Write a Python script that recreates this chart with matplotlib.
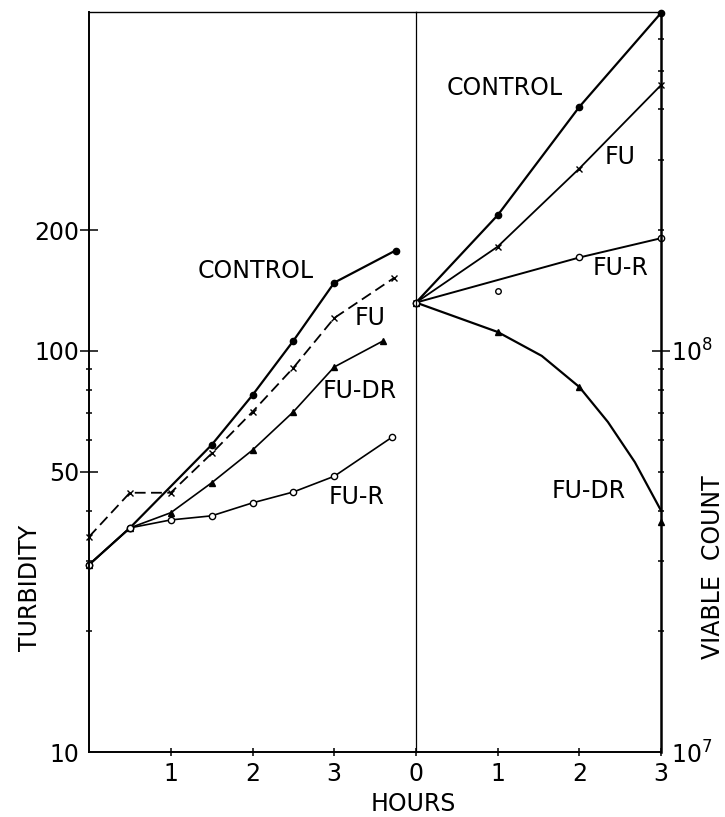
import numpy as np
import matplotlib
matplotlib.use("Agg")
import matplotlib.pyplot as plt
from matplotlib.ticker import FixedLocator, NullFormatter

plt.rcParams['font.family'] = ['DejaVu Sans']
plt.rcParams['mathtext.fontset'] = 'dejavusans'

# turbidity, left panel (hours)
hrs_control = [0, 0.5, 1.5, 2, 2.5, 3, 3.75]
turb_control = [29.3, 36.2, 58.3, 77.6, 106, 148, 178]
hrs_fu = [0, 0.5, 1, 1.5, 2, 2.5, 3, 3.73]
turb_fu = [34.4, 44.3, 44.3, 55.5, 70.5, 90.8, 120.8, 152]
hrs_fudr = [0, 0.5, 1, 1.5, 2, 2.5, 3, 3.6]
turb_fudr = [29.3, 36.2, 39.5, 46.9, 56.6, 70.5, 91.2, 106]
hrs_fur = [0, 0.5, 1, 1.5, 2, 2.5, 3, 3.71]
turb_fur = [29.3, 36.2, 37.9, 38.8, 41.8, 44.5, 48.7, 61]

# viable count, right panel (hours)
hrs_v = [0, 1, 2, 3]
via_control = [1.32e8, 2.18e8, 4.06e8, 6.96e8]
via_fu = [1.32e8, 1.82e8, 2.85e8, 4.6e8]
via_fudr = [1.32e8, 1.115e8, 8.13e7, 3.75e7]
hrs_fur_v = [0, 2, 3]
via_fur = [1.32e8, 1.71e8, 1.91e8]
hrs_fur_extra = [1]
via_fur_extra = [1.41e8]
# drawn curve of FU-DR
hrs_fudr_curve = [0, 1, 1.54, 2, 2.35, 2.68, 3]
via_fudr_curve = [1.32e8, 1.115e8, 9.72e7, 8.13e7, 6.65e7, 5.28e7, 4.0e7]

k = 'black'
fs = 17

fig = plt.figure(figsize=(7.25, 8.17), dpi=100)
W, H = 725, 817
axL = fig.add_axes([89 / W, 65 / H, 327 / W, 740 / H])
axR = fig.add_axes([416 / W, 65 / H, 245 / W, 740 / H])
axR.patch.set_visible(False)

# left panel curves
axL.plot(hrs_control, turb_control, color=k, lw=1.6, marker='o', ms=4.5, clip_on=False)
axL.plot(hrs_fu, turb_fu, color=k, lw=1.3, dashes=(6, 3), marker='x', ms=4, mew=1, clip_on=False)
axL.plot(hrs_fudr, turb_fudr, color=k, lw=1.2, marker='^', ms=4.5, clip_on=False)
axL.plot(hrs_fur, turb_fur, color=k, lw=1.2, marker='o', ms=4.5, mfc='white', clip_on=False)

# right panel curves
axR.plot(hrs_v, via_control, color=k, lw=1.6, marker='o', ms=4.5, clip_on=False)
axR.plot(hrs_v, via_fu, color=k, lw=1.3, marker='x', ms=4, mew=1, clip_on=False)
axR.plot(hrs_fudr_curve, via_fudr_curve, color=k, lw=1.6, clip_on=False)
axR.plot(hrs_v, via_fudr, color=k, ls='none', marker='^', ms=4.5, clip_on=False)
axR.plot(hrs_fur_v, via_fur, color=k, lw=1.4, marker='o', ms=4.5, mfc='white', clip_on=False)
axR.plot(hrs_fur_extra, via_fur_extra, color=k, ls='none', marker='o', ms=4, mfc='white')

# scales
axL.set_yscale('log')
axL.set_ylim(10, 700)
axL.set_xlim(0, 4)
axR.set_yscale('log')
axR.set_ylim(1e7, 7e8)
axR.set_xlim(0, 3)

# left ticks
axL.yaxis.set_major_locator(FixedLocator([10, 50, 100, 200]))
axL.set_yticklabels(['10', '50', '100', '200'])
axL.yaxis.set_minor_locator(FixedLocator([20, 30, 40, 60, 70, 80, 90]))
axL.yaxis.set_minor_formatter(NullFormatter())
axL.tick_params(axis='y', which='major', direction='inout', length=13, width=1.1,
                labelsize=fs, pad=0.5)
axL.tick_params(axis='y', which='minor', direction='inout', length=4.5, width=1.1)
axL.yaxis.get_major_ticks()[0].tick1line.set_visible(False)
axL.set_xticks([1, 2, 3])
axL.set_xticklabels(['1', '2', '3'])
axL.tick_params(axis='x', direction='inout', length=6, width=1.1, labelsize=fs, pad=4)

# right ticks
axR.yaxis.tick_right()
axR.yaxis.set_major_locator(FixedLocator([1e7, 1e8]))
axR.set_yticklabels(['$10^7$', '$10^8$'])
axR.yaxis.set_minor_locator(FixedLocator([2e7, 3e7, 4e7, 5e7, 6e7, 7e7, 8e7, 9e7,
                                          2e8, 3e8, 4e8, 5e8, 6e8]))
axR.yaxis.set_minor_formatter(NullFormatter())
axR.tick_params(axis='y', which='major', direction='inout', length=13, width=1.1,
                labelsize=fs, pad=1)
axR.tick_params(axis='y', which='minor', direction='inout', length=4.5, width=1.1)
axR.yaxis.get_major_ticks()[0].tick2line.set_visible(False)
axR.set_xticks([0, 1, 2, 3])
axR.set_xticklabels(['0', '1', '2', '3'])
axR.tick_params(axis='x', direction='inout', length=6, width=1.1, labelsize=fs, pad=4)

# frame
for s in ['left', 'bottom']:
    axL.spines[s].set_linewidth(1.4)
axL.spines['top'].set_linewidth(1.0)
axL.spines['right'].set_visible(False)
axR.spines['left'].set_linewidth(0.9)
axR.spines['top'].set_linewidth(1.0)
axR.spines['bottom'].set_linewidth(1.4)
axR.spines['right'].set_linewidth(1.8)

# curve labels
axL.text(2.04, 158, 'CONTROL', fontsize=fs, ha='center', va='center')
axL.text(3.44, 121, 'FU', fontsize=fs, ha='center', va='center')
axL.text(3.31, 79.5, 'FU-DR', fontsize=fs, ha='center', va='center')
axL.text(3.27, 43.3, 'FU-R', fontsize=fs, ha='center', va='center')
axR.text(1.09, 4.53e8, 'CONTROL', fontsize=fs, ha='center', va='center')
axR.text(2.50, 3.05e8, 'FU', fontsize=fs, ha='center', va='center')
axR.text(2.50, 1.61e8, 'FU-R', fontsize=fs, ha='center', va='center')
axR.text(2.12, 4.48e7, 'FU-DR', fontsize=fs, ha='center', va='center')

# axis titles
fig.text(30 / W, 1 - 588 / H, 'TURBIDITY', fontsize=fs, rotation=90, ha='center', va='center')
fig.text(413 / W, 1 - 804 / H, 'HOURS', fontsize=fs, ha='center', va='center')
fig.text(713 / W, 1 - 567 / H, 'VIABLE  COUNT', fontsize=fs, rotation=90, ha='center', va='center')

fig.savefig('out.png', dpi=100)
